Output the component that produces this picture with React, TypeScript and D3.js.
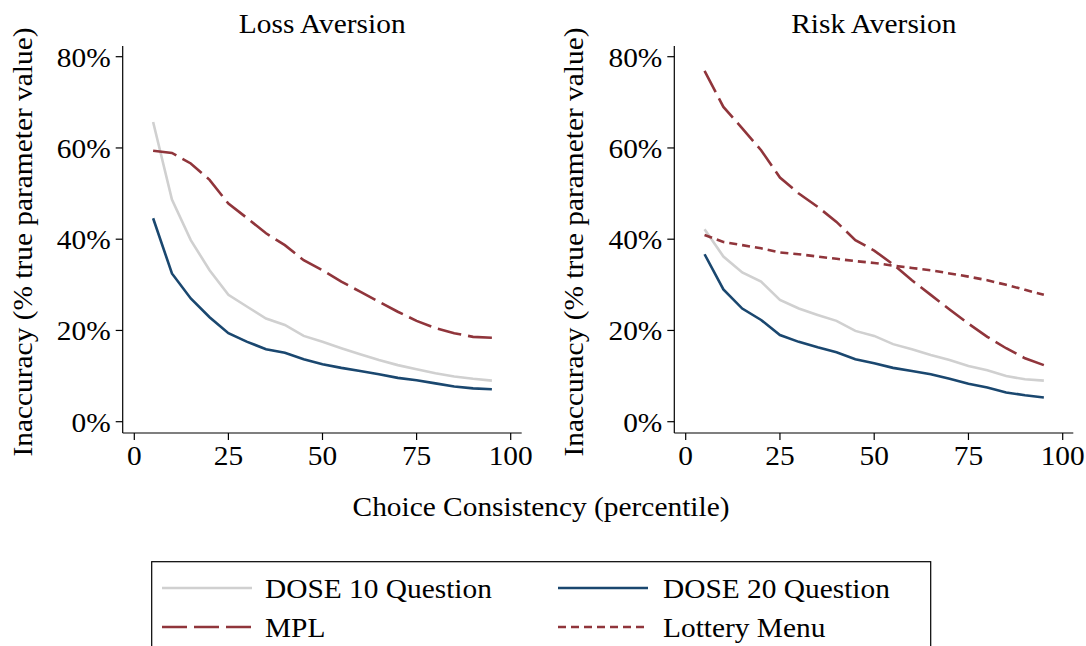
import React from "react";
import * as d3 from "d3";

const percentiles = [5, 10, 15, 20, 25, 30, 35, 40, 45, 50, 55, 60, 65, 70, 75, 80, 85, 90, 95];

const lossDose10 = [65.7, 48.7, 39.8, 33.2, 27.8, 25.2, 22.6, 21.2, 18.8, 17.5, 16.1, 14.8, 13.5, 12.4, 11.5, 10.6, 9.9, 9.4, 9.0];
const lossDose20 = [44.6, 32.5, 27.0, 22.9, 19.4, 17.5, 15.9, 15.1, 13.7, 12.6, 11.8, 11.1, 10.4, 9.6, 9.1, 8.4, 7.7, 7.3, 7.1];
const lossMPL = [59.4, 58.9, 56.6, 53.0, 47.8, 44.6, 41.3, 38.7, 35.4, 33.2, 30.7, 28.5, 26.3, 24.1, 22.1, 20.5, 19.4, 18.6, 18.4];

const riskDose10 = [42.2, 36.2, 32.7, 30.7, 26.7, 24.8, 23.4, 22.1, 19.9, 18.8, 17.0, 15.9, 14.6, 13.5, 12.2, 11.3, 10.0, 9.3, 9.0];
const riskDose20 = [36.7, 29.0, 24.8, 22.3, 19.0, 17.5, 16.3, 15.2, 13.7, 12.8, 11.8, 11.1, 10.4, 9.4, 8.3, 7.5, 6.4, 5.8, 5.3];
const riskMPL = [76.9, 69.0, 64.3, 59.5, 53.5, 50.0, 47.1, 43.8, 39.8, 37.5, 34.5, 31.0, 27.8, 24.6, 21.5, 18.6, 16.1, 13.9, 12.4];
const riskLottery = [40.9, 39.4, 38.7, 38.0, 37.1, 36.7, 36.2, 35.7, 35.2, 34.8, 34.2, 33.7, 33.2, 32.5, 31.8, 31.0, 30.0, 28.9, 27.8];

const xTicks = [0, 25, 50, 75, 100];
const yTicks = [0, 20, 40, 60, 80];
const panelTitles = ["Loss Aversion", "Risk Aversion"];
const yTitle = "Inaccuracy (% true parameter value)";
const xTitle = "Choice Consistency (percentile)";

const seriesNames = ["DOSE 10 Question", "DOSE 20 Question", "MPL", "Lottery Menu"];

const GRAY = "#d0d0d0";
const NAVY = "#1a476f";
const MAROON = "#90353b";
const FONT = "'Liberation Serif', 'Times New Roman', serif";
const FS = 28;
const SX = 1.05;

const styles: Record<string, { stroke: string; dash?: string }> = {
  "DOSE 10 Question": { stroke: GRAY },
  "DOSE 20 Question": { stroke: NAVY },
  MPL: { stroke: MAROON, dash: "24,7" },
  "Lottery Menu": { stroke: MAROON, dash: "8,5" },
};

function T({
  x,
  y,
  anchor = "start",
  rotate = 0,
  children,
}: {
  x: number;
  y: number;
  anchor?: "start" | "middle" | "end";
  rotate?: number;
  children: React.ReactNode;
}) {
  return (
    <text
      transform={`translate(${x},${y})${rotate ? ` rotate(${rotate})` : ""} scale(${SX},1)`}
      textAnchor={anchor}
      fontSize={FS}
      fontFamily={FONT}
      fill="#000"
    >
      {children}
    </text>
  );
}

const panels = [
  {
    title: panelTitles[0],
    axisLeft: 122.7,
    axisRight: 521.7,
    x0: 134.3,
    x100: 510.7,
    titleX: 32,
    series: [
      { name: "DOSE 10 Question", values: lossDose10 },
      { name: "DOSE 20 Question", values: lossDose20 },
      { name: "MPL", values: lossMPL },
    ],
  },
  {
    title: panelTitles[1],
    axisLeft: 674.3,
    axisRight: 1073.3,
    x0: 685.7,
    x100: 1062.7,
    titleX: 583,
    series: [
      { name: "DOSE 10 Question", values: riskDose10 },
      { name: "DOSE 20 Question", values: riskDose20 },
      { name: "Lottery Menu", values: riskLottery },
      { name: "MPL", values: riskMPL },
    ],
  },
];

const yScale = d3.scaleLinear().domain([0, 80]).range([421.7, 56.7]);
const axisTop = 46;
const axisBottom = 433;

function Panel({ p }: { p: (typeof panels)[number] }) {
  const x = d3.scaleLinear().domain([0, 100]).range([p.x0, p.x100]);
  const line = d3
    .line<number>()
    .x((_, i) => x(percentiles[i]))
    .y((d) => yScale(d));
  const centerY = 242;
  return (
    <g>
      <T x={(p.axisLeft + p.axisRight) / 2} y={33} anchor="middle">
        {p.title}
      </T>
      <T x={p.titleX} y={centerY} anchor="middle" rotate={-90}>
        {yTitle}
      </T>
      {p.series.map((s) => (
        <path
          key={s.name}
          d={line(s.values) || ""}
          fill="none"
          stroke={styles[s.name].stroke}
          strokeWidth={2.6}
          strokeDasharray={styles[s.name].dash}
        />
      ))}
      <line x1={p.axisLeft} x2={p.axisLeft} y1={axisTop} y2={axisBottom} stroke="#000" strokeWidth={1.2} />
      <line x1={p.axisLeft} x2={p.axisRight} y1={axisBottom} y2={axisBottom} stroke="#000" strokeWidth={1.2} />
      {yTicks.map((t) => (
        <g key={t}>
          <line x1={p.axisLeft - 7} x2={p.axisLeft} y1={yScale(t)} y2={yScale(t)} stroke="#000" strokeWidth={1.2} />
          <T x={p.axisLeft - 12} y={yScale(t) + 10} anchor="end">
            {t}%
          </T>
        </g>
      ))}
      {xTicks.map((t) => (
        <g key={t}>
          <line x1={x(t)} x2={x(t)} y1={axisBottom} y2={axisBottom + 7} stroke="#000" strokeWidth={1.2} />
          <T x={x(t)} y={465} anchor="middle">
            {t}
          </T>
        </g>
      ))}
    </g>
  );
}

const legendItems = [
  { name: seriesNames[0], lx: 162, ly: 588, tx: 265, ty: 598 },
  { name: seriesNames[1], lx: 558, ly: 588, tx: 663, ty: 598 },
  { name: seriesNames[2], lx: 162, ly: 627, tx: 265, ty: 637 },
  { name: seriesNames[3], lx: 558, ly: 627, tx: 663, ty: 637 },
];

export default function App() {
  return (
    <svg
      width={1086}
      height={646}
      style={{ position: "absolute", left: 0, top: 0, background: "#fff" }}
    >
      <rect x={0} y={0} width={1086} height={646} fill="#fff" />
      {panels.map((p) => (
        <Panel key={p.title} p={p} />
      ))}
      <T x={541} y={516} anchor="middle">
        {xTitle}
      </T>
      <rect x={151.7} y={561.7} width={779} height={120} fill="none" stroke="#000" strokeWidth={1.2} />
      {legendItems.map((it) => (
        <g key={it.name}>
          <line
            x1={it.lx}
            x2={it.lx + 90}
            y1={it.ly}
            y2={it.ly}
            stroke={styles[it.name].stroke}
            strokeWidth={2.6}
            strokeDasharray={styles[it.name].dash === "24,7" ? "25,7" : styles[it.name].dash}
          />
          <T x={it.tx} y={it.ty}>
            {it.name}
          </T>
        </g>
      ))}
    </svg>
  );
}
